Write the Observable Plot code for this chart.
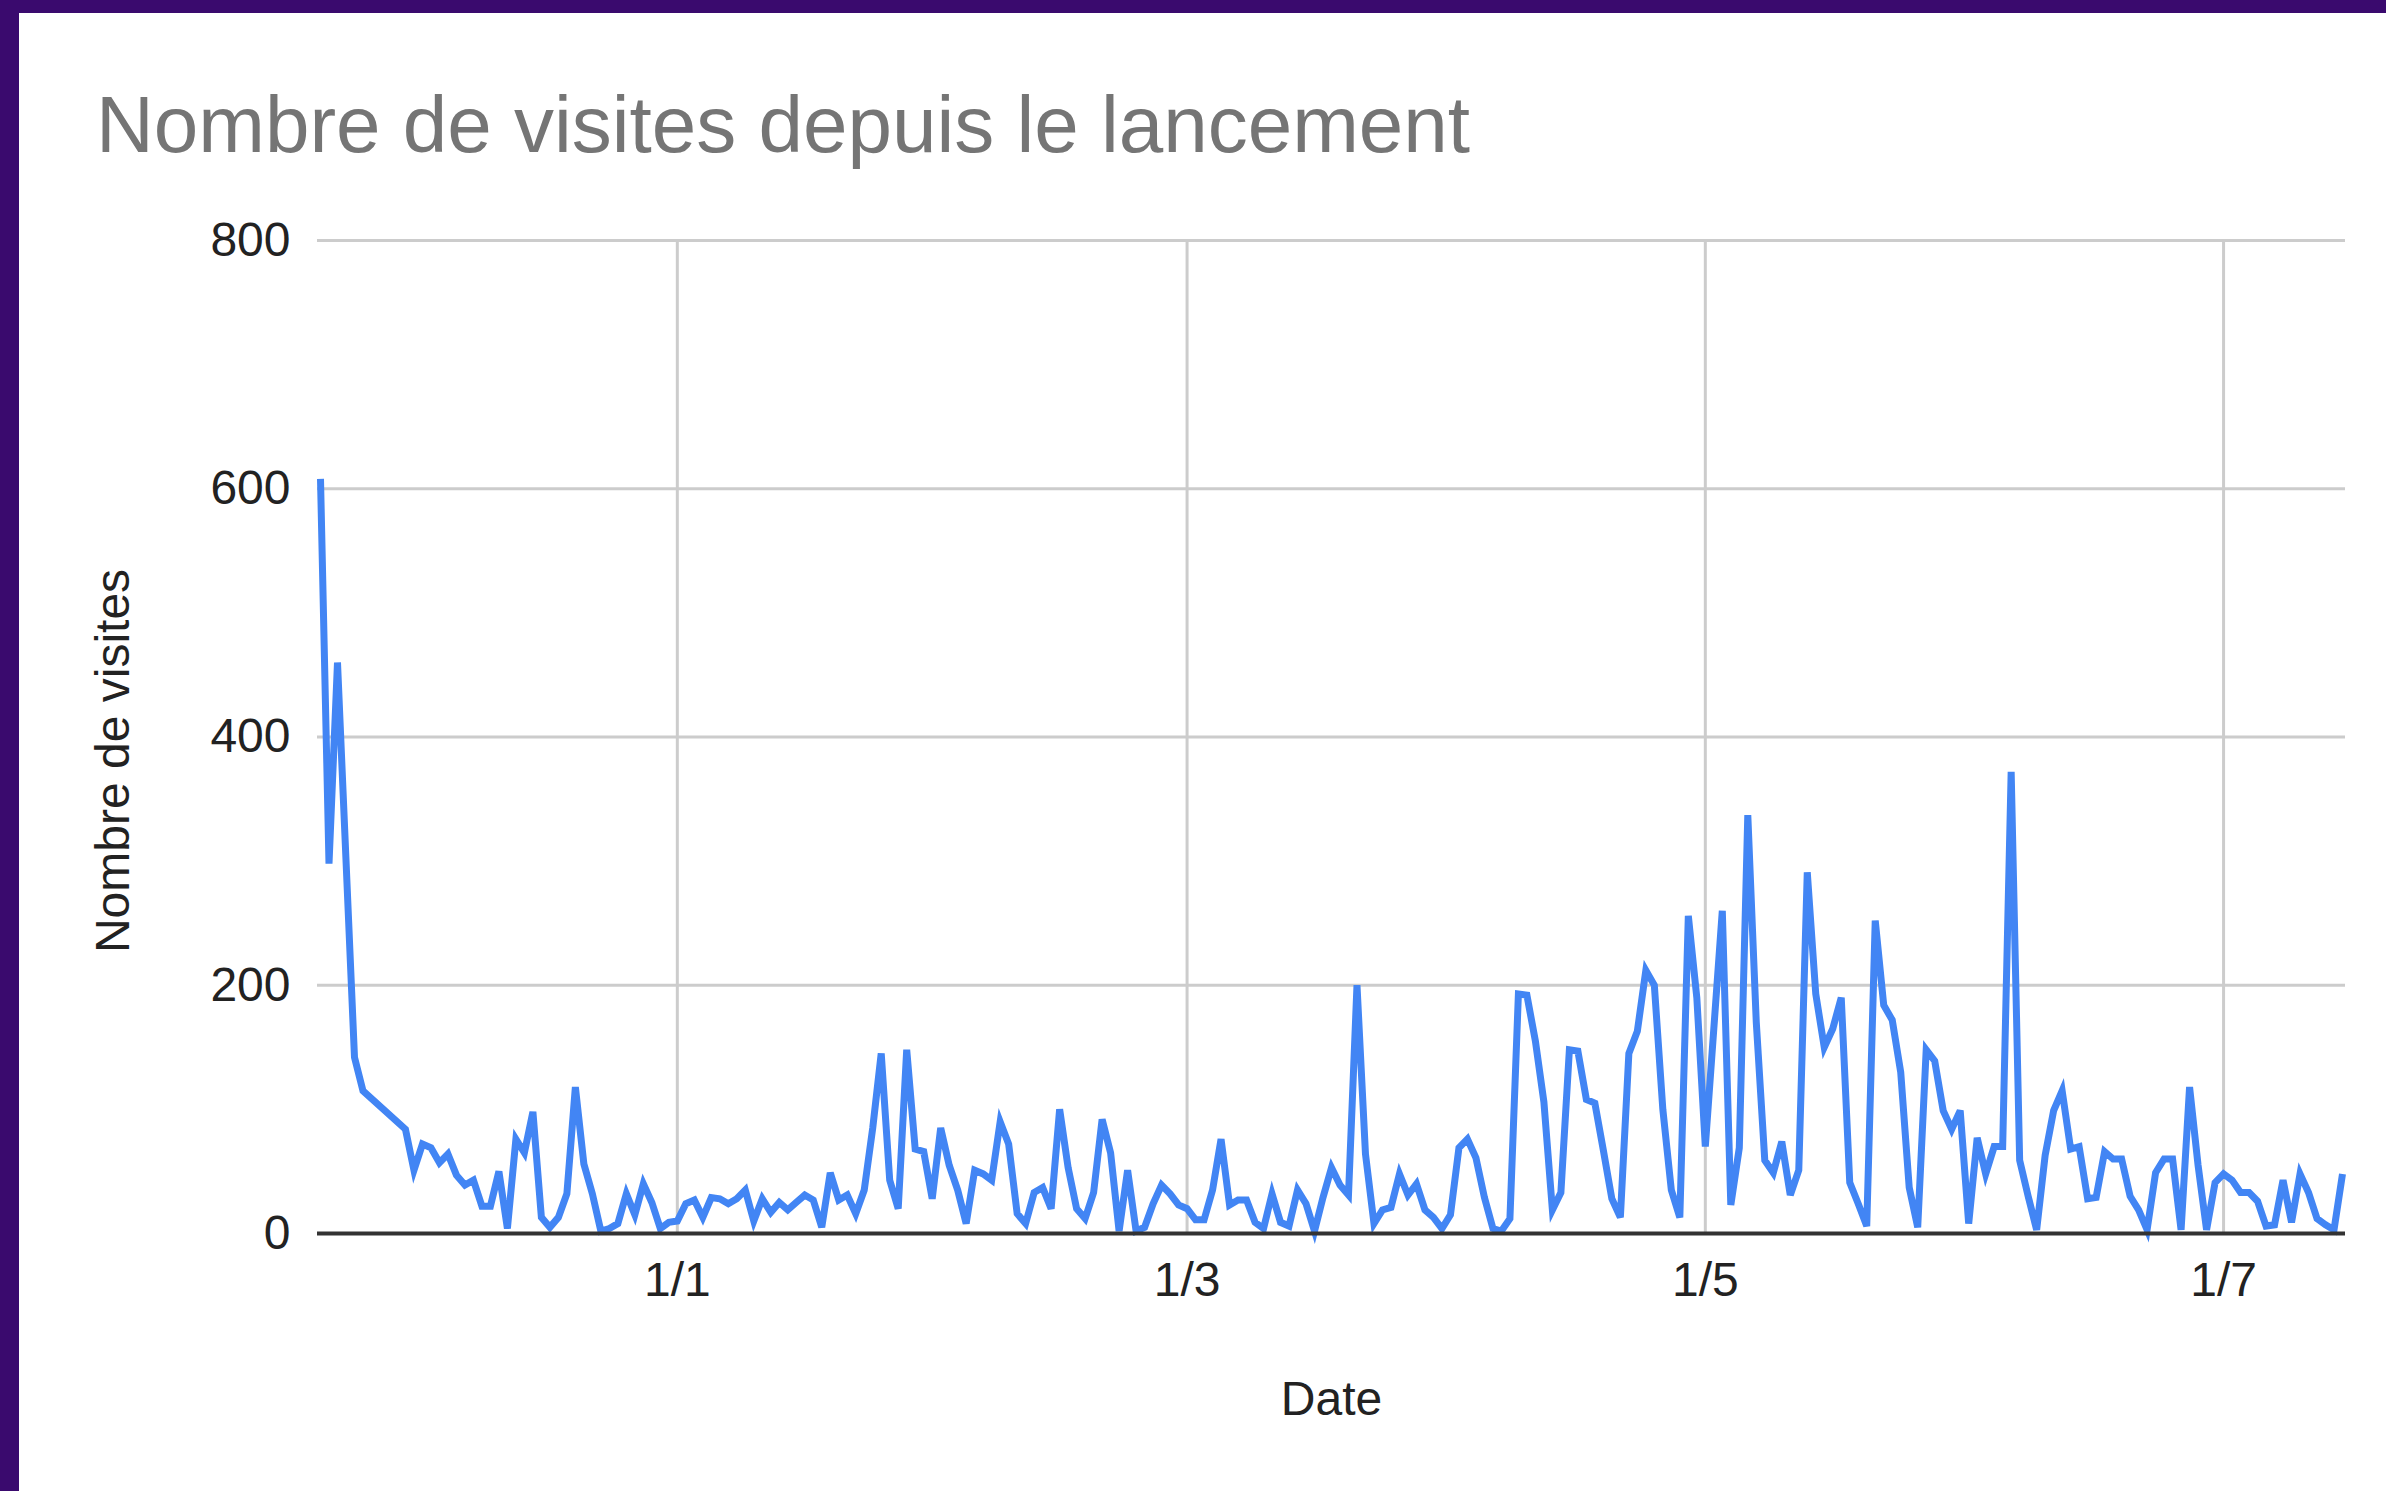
<!DOCTYPE html>
<html>
<head>
<meta charset="utf-8">
<script src="https://cdn.jsdelivr.net/npm/d3@7"></script>
<script src="https://cdn.jsdelivr.net/npm/@observablehq/plot@0.6"></script>
<style>
  html, body { margin: 0; padding: 0; width: 2386px; height: 1491px; overflow: hidden; background: #3a0a6e; }
  #panel { position: absolute; left: 19px; top: 13px; right: 0; bottom: 0; background: #ffffff; }
  #title { position: absolute; left: 96px; top: 85px; font-family: "Liberation Sans", Arial, sans-serif; font-size: 80px; line-height: 80px; color: #757575; white-space: nowrap; }
  #chart { position: absolute; left: 0; top: 0; }
</style>
</head>
<body>
<div id="panel"></div>
<div id="title"></div>
<div id="chart"></div>
<script>
// Daily visit counts (dates with no point in the source are absent, the line joins across them)
const dates = [
  // November 2023
  "2023-11-20","2023-11-21","2023-11-22","2023-11-24","2023-11-25","2023-11-30",
  // December 2023
  "2023-12-01","2023-12-02","2023-12-03","2023-12-04","2023-12-05","2023-12-06","2023-12-07","2023-12-08","2023-12-09","2023-12-10",
  "2023-12-11","2023-12-12","2023-12-13","2023-12-14","2023-12-15","2023-12-16","2023-12-17","2023-12-18","2023-12-19","2023-12-20",
  "2023-12-21","2023-12-22","2023-12-23","2023-12-24","2023-12-25","2023-12-26","2023-12-27","2023-12-28","2023-12-29","2023-12-30","2023-12-31",
  // January 2024
  "2024-01-01","2024-01-02","2024-01-03","2024-01-04","2024-01-05","2024-01-06","2024-01-07","2024-01-08","2024-01-09","2024-01-10",
  "2024-01-11","2024-01-12","2024-01-13","2024-01-14","2024-01-15","2024-01-16","2024-01-17","2024-01-18","2024-01-19","2024-01-20",
  "2024-01-21","2024-01-22","2024-01-23","2024-01-24","2024-01-25","2024-01-26","2024-01-27","2024-01-28","2024-01-29","2024-01-30","2024-01-31",
  // February 2024
  "2024-02-01","2024-02-02","2024-02-03","2024-02-04","2024-02-05","2024-02-06","2024-02-07","2024-02-08","2024-02-09","2024-02-10",
  "2024-02-11","2024-02-12","2024-02-13","2024-02-14","2024-02-15","2024-02-16","2024-02-17","2024-02-18","2024-02-19","2024-02-20",
  "2024-02-21","2024-02-22","2024-02-23","2024-02-24","2024-02-25","2024-02-26","2024-02-27","2024-02-28","2024-02-29",
  // March 2024
  "2024-03-01","2024-03-02","2024-03-03","2024-03-04","2024-03-05","2024-03-06","2024-03-07","2024-03-08","2024-03-09","2024-03-10",
  "2024-03-11","2024-03-12","2024-03-13","2024-03-14","2024-03-15","2024-03-16","2024-03-17","2024-03-18","2024-03-19","2024-03-20",
  "2024-03-21","2024-03-22","2024-03-23","2024-03-24","2024-03-25","2024-03-26","2024-03-27","2024-03-28","2024-03-29","2024-03-30","2024-03-31",
  // April 2024
  "2024-04-01","2024-04-02","2024-04-03","2024-04-04","2024-04-05","2024-04-06","2024-04-07","2024-04-08","2024-04-09","2024-04-10",
  "2024-04-11","2024-04-12","2024-04-13","2024-04-14","2024-04-15","2024-04-16","2024-04-17","2024-04-18","2024-04-19","2024-04-20",
  "2024-04-21","2024-04-22","2024-04-23","2024-04-24","2024-04-25","2024-04-26","2024-04-27","2024-04-28","2024-04-29","2024-04-30",
  // May 2024
  "2024-05-01","2024-05-02","2024-05-03","2024-05-04","2024-05-05","2024-05-06","2024-05-07","2024-05-08","2024-05-09","2024-05-10",
  "2024-05-11","2024-05-12","2024-05-13","2024-05-14","2024-05-15","2024-05-16","2024-05-17","2024-05-18","2024-05-19","2024-05-20",
  "2024-05-21","2024-05-22","2024-05-23","2024-05-24","2024-05-25","2024-05-26","2024-05-27","2024-05-28","2024-05-29","2024-05-30","2024-05-31",
  // June 2024
  "2024-06-01","2024-06-02","2024-06-03","2024-06-04","2024-06-05","2024-06-06","2024-06-07","2024-06-08","2024-06-09","2024-06-10",
  "2024-06-11","2024-06-12","2024-06-13","2024-06-14","2024-06-15","2024-06-16","2024-06-17","2024-06-18","2024-06-19","2024-06-20",
  "2024-06-21","2024-06-22","2024-06-23","2024-06-24","2024-06-25","2024-06-26","2024-06-27","2024-06-28","2024-06-29","2024-06-30",
  // July 2024
  "2024-07-01","2024-07-02","2024-07-03","2024-07-04","2024-07-05","2024-07-06","2024-07-07","2024-07-08","2024-07-09","2024-07-10",
  "2024-07-11","2024-07-12","2024-07-13","2024-07-14","2024-07-15"
];

const visits = [
  // November 2023
  608, 298, 460, 142, 115, 84,
  // December 2023
  51, 72, 69, 57, 64, 47, 39, 43, 22, 22,
  50, 4, 76, 65, 98, 13, 5, 13, 32, 118,
  56, 32, 2, 4, 8, 32, 15, 40, 25, 4, 9,
  // January 2024
  10, 24, 27, 13, 29, 28, 24, 28, 35, 10,
  28, 17, 25, 19, 25, 31, 27, 5, 49, 27,
  31, 16, 35, 85, 145, 43, 20, 148, 68, 66, 28,
  // February 2024
  85, 55, 35, 8, 51, 48, 43, 90, 72, 16,
  8, 33, 37, 20, 100, 53, 20, 12, 33, 92,
  65, 2, 51, 2, 5, 24, 39, 32, 23,
  // March 2024
  20, 11, 11, 35, 76, 23, 27, 27, 9, 4,
  32, 9, 6, 35, 24, 2, 29, 53, 39, 31,
  200, 64, 8, 19, 21, 48, 31, 40, 19, 13, 4,
  // April 2024
  15, 69, 76, 61, 29, 4, 2, 12, 193, 192,
  155, 106, 19, 33, 148, 147, 108, 105, 67, 28,
  13, 145, 163, 212, 200, 100, 35, 13, 256, 190,
  // May 2024
  70, 165, 260, 23, 69, 337, 170, 59, 49, 74,
  31, 51, 291, 193, 150, 165, 190, 41, 24, 6,
  252, 184, 172, 130, 37, 5, 148, 139, 99, 84, 99,
  // June 2024
  8, 77, 48, 70, 70, 372, 59, 30, 3, 63,
  99, 115, 68, 70, 28, 29, 66, 60, 60, 30,
  19, 3, 49, 60, 60, 3, 118, 55, 3, 41,
  // July 2024
  48, 43, 33, 33, 26, 6, 7, 43, 9, 48,
  33, 12, 7, 3, 48
];

const yTicks = [0, 200, 400, 600, 800];
const xTickDates = ["2024-01-01", "2024-03-01", "2024-05-01", "2024-07-01"];
const xTickLabels = ["1/1", "1/3", "1/5", "1/7"];
const titleText = "Nombre de visites depuis le lancement";
const xLabel = "Date";
const yLabel = "Nombre de visites";

const parse = (s) => new Date(s + "T00:00:00Z");
const data = dates.map((d, i) => ({date: parse(d), visits: visits[i]}));
const xTicks = xTickDates.map(parse);
const tickLabel = (d) => xTickLabels[xTicks.findIndex((t) => +t === +d)];

document.getElementById("title").textContent = titleText;

const FONT = '"Liberation Sans", Arial, sans-serif';

const chart = Plot.plot({
  width: 2386,
  height: 1491,
  marginLeft: 317,
  marginRight: 41,
  marginTop: 240,
  marginBottom: 258,
  style: {background: "transparent", fontFamily: FONT, fontSize: "48px", color: "#222222"},
  x: {type: "utc", domain: [data[0].date, data[data.length - 1].date], insetLeft: 3, insetRight: 3},
  y: {domain: [0, 800]},
  marks: [
    Plot.ruleY(yTicks.filter((d) => d > 0), {stroke: "#cccccc", strokeWidth: 3}),
    Plot.ruleX(xTicks, {y1: 0, y2: 800, stroke: "#cccccc", strokeWidth: 3}),
    Plot.axisY(yTicks, {tickSize: 0, tickPadding: 27, label: null, fontSize: 48}),
    Plot.axisX(xTicks, {tickSize: 0, tickPadding: 28, tickFormat: tickLabel, label: null, fontSize: 48}),
    Plot.line(data, {x: "date", y: "visits", stroke: "#4285f4", strokeWidth: 7, strokeLinejoin: "miter", strokeMiterlimit: 4, strokeLinecap: "butt"}),
    Plot.ruleY([0], {stroke: "#333333", strokeWidth: 4}),
    Plot.text([xLabel], {text: (d) => d, frameAnchor: "bottom", textAnchor: "middle", dy: 181, fontSize: 48, fill: "#222222"}),
    Plot.text([yLabel], {text: (d) => d, frameAnchor: "left", textAnchor: "middle", dx: -204, dy: 24, rotate: -90, fontSize: 48, fill: "#222222"})
  ]
});
document.getElementById("chart").appendChild(chart);
</script>
</body>
</html>
